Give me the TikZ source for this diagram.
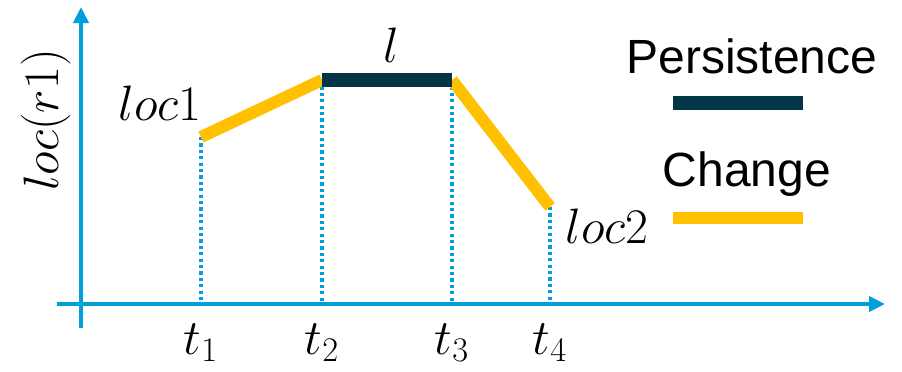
\documentclass[tikz,border=0pt]{standalone}
\usepackage{fontspec}
\newfontfamily\legendfont{Liberation Sans}
\usetikzlibrary{arrows.meta}
\definecolor{axisblue}{RGB}{0,158,219}
\definecolor{changeorange}{RGB}{255,192,0}
\definecolor{persistdark}{RGB}{2,54,71}

\begin{document}
\begin{tikzpicture}[x=0.5pt, y=-0.5pt,
  axis/.style={line width=2pt, axisblue, -{Triangle[length=8pt, width=7.5pt]}},
  guide/.style={line width=1.6pt, axisblue, dash pattern=on 1.6pt off 1.6pt},
  change/.style={line width=6pt, changeorange},
  persist/.style={line width=7pt, persistdark},
  lbl/.style={font=\fontsize{24}{28}\selectfont, inner sep=0pt, anchor=base},
  legend/.style={font=\legendfont\fontsize{24}{28}\selectfont, inner sep=0pt, anchor=base}]

\useasboundingbox (0,0) rectangle (902,371);

% Axes
\coordinate (O) at (81,304);
\coordinate (Xs) at (57,304);
\coordinate (Xe) at (885,304);
\coordinate (Ys) at (81,328);
\coordinate (Ye) at (81,7);
\draw[axis] (Xs) -- (Xe);
\draw[axis] (Ys) -- (Ye);
\node[lbl, rotate=90] (ylab) at (58,120) {$loc(r1)$};

% Location of r1 over time
\coordinate (P1) at (201,137);
\coordinate (P2) at (322,80);
\coordinate (P3) at (452,80);
\coordinate (P4) at (550,207);

% Guides down to the time axis
\foreach \p/\i in {P1/1, P2/2, P3/3, P4/4}{
  \coordinate (F\i) at (\p |- O);
  \draw[guide] (\p) -- (F\i);
  \node[lbl] (t\i) at ([yshift=-25pt]F\i) {$t_\i$};
}

\draw[change] (P1) -- (P2);
\draw[change] (P3) -- (P4);
\draw[persist] (P2) -- (P3);

\node[lbl] (loc1) at (160,120) {$loc1$};
\node[lbl] (lval) at (391,62) {$l$};
\node[lbl] (loc2) at (607,243) {$loc2$};

% Legend
\node[legend] (persistence) at (752,73) {Persistence};
\coordinate (PerL) at (673,103);
\coordinate (PerR) at (803,103);
\draw[persist] (PerL) -- (PerR);

\node[legend] (change) at (747,186) {Change};
\coordinate (ChgL) at (673,218);
\coordinate (ChgR) at (803,218);
\draw[change] (ChgL) -- (ChgR);

\end{tikzpicture}
\end{document}
